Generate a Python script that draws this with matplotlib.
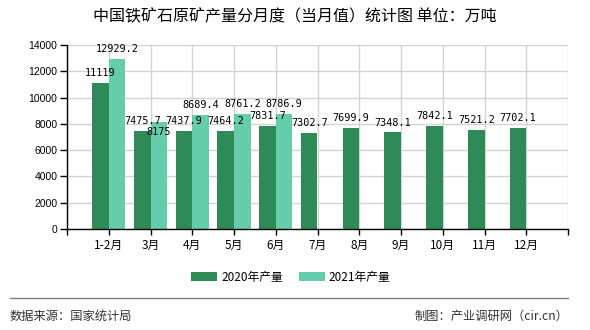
"""Monthly iron ore output chart, 2020 vs 2021 (unit: 10k tonnes)."""

import matplotlib
matplotlib.use("Agg")
import matplotlib.pyplot as plt
import numpy as np


######################
# Data
######################

months = ["1-2月", "3月", "4月", "5月", "6月", "7月", "8月", "9月",
          "10月", "11月", "12月"]
output_2020 = [11119, 7475.7, 7437.9, 7464.2, 7831.7, 7302.7, 7699.9,
               7348.1, 7842.1, 7521.2, 7702.1]
output_2021 = [12929.2, 8175, 8689.4, 8761.2, 8786.9]
y_ticks = [0, 2000, 4000, 6000, 8000, 10000, 12000, 14000]

c_2020 = "#2e8b57"
c_2021 = "#66cdaa"

cjk = ["Noto Sans CJK SC", "DejaVu Sans"]
plt.rcParams["font.family"] = cjk


def fmt(v):
    return ("%g" % v) if v != int(v) else "%d" % v


def main():
    fig = plt.figure(figsize=(5.9, 3.3), dpi=100)
    ax = fig.add_axes([67 / 590, 1 - 229 / 330, 501 / 590, 184 / 330])

    x = np.arange(len(months))
    w = 0.4
    x21 = x[:len(output_2021)]

    ax.bar(x - w / 2, output_2020, width=w, color=c_2020, zorder=2,
           label="2020年产量")
    ax.bar(x21 + w / 2, output_2021, width=w, color=c_2021, zorder=2,
           label="2021年产量")

    # value labels above the bars
    for xi, v in zip(x, output_2020):
        ax.annotate(fmt(v), (xi - w / 2, v), xytext=(0, 3.5),
                    textcoords="offset points", ha="center", va="bottom",
                    fontsize=7.3, family="DejaVu Sans Mono", zorder=4)
    for xi, v in zip(x21, output_2021):
        if xi == 1:
            # 3月 label sits inside the bar to dodge its neighbour
            dy, va = -7.5, "center"
        else:
            dy, va = 3.5, "bottom"
        ax.annotate(fmt(v), (xi + w / 2, v), xytext=(0, dy),
                    textcoords="offset points", ha="center", va=va,
                    fontsize=7.3, family="DejaVu Sans Mono", zorder=4)

    ax.set_xlim(-1, 11)
    ax.set_ylim(0, 14000)
    ax.set_yticks(y_ticks)
    ax.set_yticklabels([str(t) for t in y_ticks], fontsize=7.5,
                       family="Liberation Sans")
    ax.set_xticks(np.arange(-1, 12))
    ax.set_xticklabels([""] + months + [""], fontsize=8.5)

    ax.grid(True, color="#d3d3d3", lw=1, zorder=0)
    ax.set_axisbelow(True)
    for side in ("top", "right"):
        ax.spines[side].set_visible(False)
    for side in ("left", "bottom"):
        ax.spines[side].set_color("black")
        ax.spines[side].set_linewidth(1)
    ax.tick_params(axis="y", length=5, width=1, pad=2, colors="black")
    ax.tick_params(axis="x", length=4, width=1, pad=3, colors="black")

    fig.text(0.5, 1 - 17 / 330, "中国铁矿石原矿产量分月度（当月值）统计图 单位：万吨",
             ha="center", va="center", fontsize=11.5)

    fig.legend(loc="center", bbox_to_anchor=(291 / 590, 1 - 277 / 330),
               ncol=2, frameon=False, fontsize=8.5, handlelength=2.2,
               handleheight=0.9, columnspacing=1.4, handletextpad=0.3)

    fig.add_artist(plt.Line2D([10 / 590, 568 / 590], [1 - 298 / 330] * 2,
                              color="#808080", lw=1))
    fig.text(10 / 590, 1 - 316 / 330, "数据来源：国家统计局", ha="left",
             va="center", fontsize=8.8, color="#333333")
    fig.text(568 / 590, 1 - 316 / 330, "制图：产业调研网（cir.cn）", ha="right",
             va="center", fontsize=8.8, color="#333333")

    fig.savefig("out.png", dpi=100)


if __name__ == "__main__":
    main()
